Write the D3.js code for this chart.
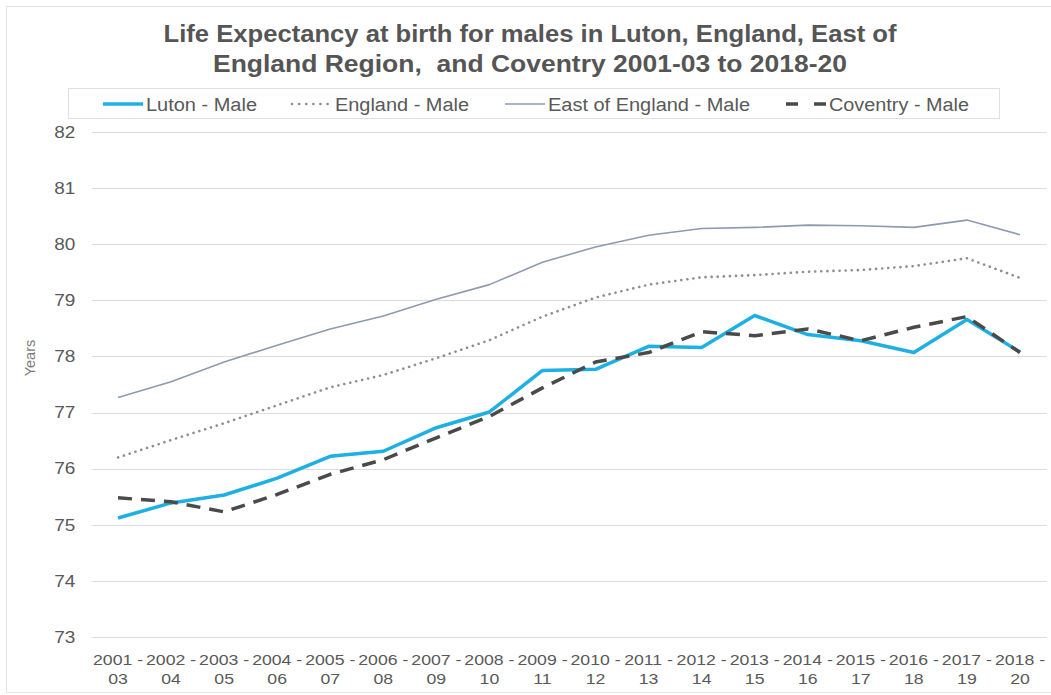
<!DOCTYPE html>
<html>
<head>
<meta charset="utf-8">
<script src="https://cdn.jsdelivr.net/npm/d3@7"></script>
<style>
  html, body { margin: 0; padding: 0; background: #fff; }
  svg { display: block; font-family: "Liberation Sans", Arial, sans-serif; }
</style>
</head>
<body>
<svg id="chart" width="1051" height="695"></svg>
<script>
// Three-year periods (start year, end year suffix)
const periodStart = ["2001","2002","2003","2004","2005","2006","2007","2008","2009","2010","2011","2012","2013","2014","2015","2016","2017","2018"];
const periodEnd   = ["03","04","05","06","07","08","09","10","11","12","13","14","15","16","17","18","19","20"];

// Life expectancy at birth (years), males
const luton    = [75.12,75.39,75.53,75.83,76.22,76.31,76.73,77.01,77.75,77.77,78.18,78.16,78.73,78.39,78.28,78.07,78.66,78.08];
const england  = [76.20,76.51,76.81,77.13,77.45,77.67,77.97,78.29,78.71,79.05,79.28,79.41,79.45,79.51,79.54,79.61,79.75,79.40];
const eastEng  = [77.27,77.55,77.90,78.20,78.49,78.72,79.02,79.28,79.68,79.95,80.16,80.28,80.30,80.34,80.33,80.30,80.43,80.17];
const coventry = [75.48,75.41,75.23,75.54,75.90,76.16,76.55,76.93,77.44,77.90,78.07,78.44,78.37,78.49,78.28,78.52,78.71,78.07];

const yTicks = [73,74,75,76,77,78,79,80,81,82];

const titleLines = [
  "Life Expectancy at birth for males in Luton, England, East of",
  "England Region,\u00a0 and Coventry 2001-03 to 2018-20"
];

const series = [
  { name: "Luton - Male",           values: luton,    color: "#1eb0e3", width: 3.5, dash: null,    cap: "butt",  legendDash: null },
  { name: "England - Male",         values: england,  color: "#8f8f8f", width: 2.6, dash: "0.1,6", cap: "round", legendDash: "0.1,7" },
  { name: "East of England - Male", values: eastEng,  color: "#8e9ab0", width: 1.6, dash: null,    cap: "butt",  legendDash: null },
  { name: "Coventry - Male",        values: coventry, color: "#4a4a4a", width: 3.5, dash: "14,9",  cap: "butt",  legendDash: "12,16" }
];

const svg = d3.select("#chart");
const W = 1051, H = 695;

// outer frame
svg.append("rect")
  .attr("x", 6.5).attr("y", 6.5).attr("width", W + 10).attr("height", H - 9)
  .attr("fill", "#fff").attr("stroke", "#e3e3e3").attr("stroke-width", 1);

const plot = { left: 91.5, right: 1046.5, top: 132, bottom: 637 };

const x = d3.scaleBand()
  .domain(periodStart)
  .range([plot.left, plot.right])
  .paddingInner(0).paddingOuter(0);

const y = d3.scaleLinear()
  .domain([73, 82])
  .range([plot.bottom, plot.top]);

// title
const titleWidths = [733, 634];
const title = svg.append("g")
  .attr("font-weight", "bold")
  .attr("font-size", 23.5)
  .attr("fill", "#555555")
  .attr("text-anchor", "middle");
title.selectAll("text").data(titleLines).join("text")
  .attr("x", 530)
  .attr("y", (d, i) => 42 + i * 30)
  .attr("textLength", (d, i) => titleWidths[i])
  .attr("lengthAdjust", "spacingAndGlyphs")
  .text(d => d);

// gridlines
svg.append("g")
  .selectAll("line").data(yTicks).join("line")
  .attr("x1", plot.left).attr("x2", plot.right)
  .attr("y1", d => Math.round(y(d)) + 0.5).attr("y2", d => Math.round(y(d)) + 0.5)
  .attr("stroke", "#dcdcdc").attr("stroke-width", 1.2);

// y axis labels
const yAxis = d3.axisLeft(y).tickValues(yTicks).tickSize(0).tickPadding(14).tickFormat(d3.format("d"));
const gy = svg.append("g").attr("transform", `translate(${plot.left},0)`).call(yAxis);
gy.select(".domain").remove();
gy.selectAll("text")
  .attr("font-family", "Liberation Sans, Arial, sans-serif")
  .attr("font-size", 16.5).attr("fill", "#595959")
  .attr("transform", "scale(1.15,1)");

// y axis title
svg.append("text")
  .attr("transform", "translate(35,358) rotate(-90)")
  .attr("text-anchor", "middle")
  .attr("font-size", 14.5).attr("fill", "#7a7a7a")
  .text("Years");

// x axis labels (two lines each)
const xAxis = d3.axisBottom(x).tickSize(0).tickPadding(0).tickFormat("");
const gx = svg.append("g").attr("transform", `translate(0,${plot.bottom})`).call(xAxis);
gx.select(".domain").remove();
gx.selectAll(".tick").each(function(d, i) {
  const t = d3.select(this);
  const lab = t.append("g").attr("transform", "scale(1.22,1)")
    .attr("text-anchor", "middle")
    .attr("font-size", 14.5).attr("fill", "#595959");
  lab.append("text").attr("y", 28).text(d + " -");
  lab.append("text").attr("y", 47).text(periodEnd[i]);
});

// lines
const line = d3.line()
  .x((d, i) => x(periodStart[i]) + x.bandwidth() / 2)
  .y(d => y(d));

const drawOrder = [2, 1, 0, 3];
svg.append("g").selectAll("path").data(drawOrder.map(i => series[i])).join("path")
  .attr("d", d => line(d.values))
  .attr("fill", "none")
  .attr("stroke", d => d.color)
  .attr("stroke-width", d => d.width)
  .attr("stroke-dasharray", d => d.dash)
  .attr("stroke-linecap", d => d.cap)
  .attr("stroke-linejoin", "round");

// legend
const legend = svg.append("g");
legend.append("rect")
  .attr("x", 68.5).attr("y", 88.5).attr("width", 931).attr("height", 30)
  .attr("fill", "#fff").attr("stroke", "#e0e0e0");

const legendPos = [103, 292, 505, 786];
const legendTextW = [111, 134, 202, 140];
const item = legend.selectAll("g.item").data(series).join("g")
  .attr("class", "item")
  .attr("transform", (d, i) => `translate(${legendPos[i]},104)`);
item.append("line")
  .attr("x1", 0).attr("x2", 40).attr("y1", 0).attr("y2", 0)
  .attr("stroke", d => d.color)
  .attr("stroke-width", d => d.width)
  .attr("stroke-dasharray", d => d.legendDash)
  .attr("stroke-linecap", d => d.cap);
item.append("text")
  .attr("x", 43).attr("y", 6.5)
  .attr("font-size", 18).attr("fill", "#595959")
  .attr("textLength", (d, i) => legendTextW[i])
  .attr("lengthAdjust", "spacingAndGlyphs")
  .text(d => d.name);
</script>
</body>
</html>
